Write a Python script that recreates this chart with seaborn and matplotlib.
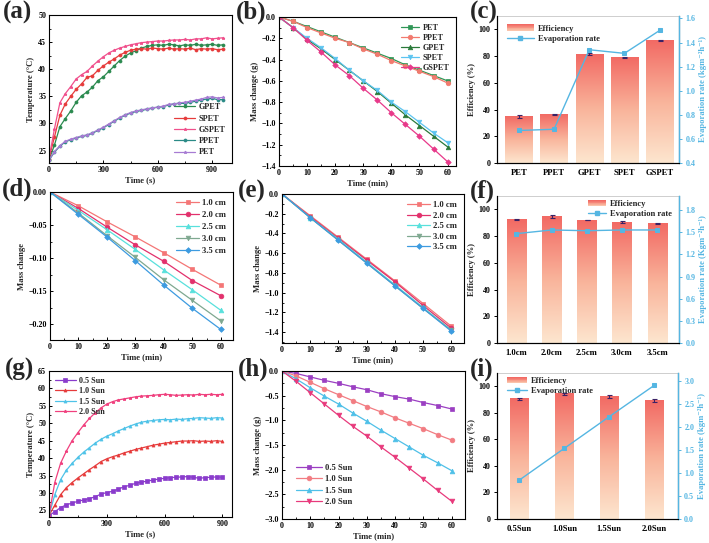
import numpy as np
import pandas as pd
import matplotlib
matplotlib.use("Agg")
import matplotlib.pyplot as plt
import seaborn as sns
from matplotlib.ticker import AutoMinorLocator, MultipleLocator, FuncFormatter
from matplotlib.colors import LinearSegmentedColormap
from matplotlib.legend_handler import HandlerBase
from matplotlib.patches import Rectangle
from matplotlib.lines import Line2D

# ---------------- DATA ----------------
# (a) temperature vs time (s)
t_a = list(range(0, 961, 30))
a_GSPET = [23.5, 29.0, 33.8, 35.5, 36.8, 38.2, 39.0, 39.6, 40.6, 41.5, 42.3, 43.0, 43.5, 43.9, 44.2, 44.5, 44.7,
           44.9, 45.0, 45.1, 45.2, 45.2, 45.3, 45.4, 45.4, 45.5, 45.4, 45.6, 45.6, 45.8, 45.6, 45.7, 45.8]
a_SPET = [23.5, 27.5, 31.5, 33.6, 35.0, 36.3, 37.3, 38.5, 38.8, 39.8, 40.6, 41.3, 41.9, 42.6, 43.1, 43.5, 43.7,
          43.8, 43.7, 43.9, 43.8, 43.7, 43.9, 43.7, 43.8, 43.7, 43.9, 43.6, 43.8, 43.7, 43.8, 43.6, 43.7]
a_GPET = [23.3, 26.0, 29.4, 30.9, 32.3, 33.9, 35.1, 35.8, 36.7, 37.9, 38.6, 39.6, 40.6, 41.6, 42.4, 43.0, 43.4,
          43.9, 44.2, 44.4, 44.5, 44.4, 44.6, 44.5, 44.3, 44.5, 44.4, 44.6, 44.4, 44.5, 44.6, 44.4, 44.5]
a_PPET = [23.2, 24.7, 25.8, 26.6, 27.0, 27.3, 27.6, 27.8, 28.2, 28.7, 29.2, 29.8, 30.4, 31.0, 31.5, 31.9, 32.2,
          32.4, 32.6, 32.8, 33.0, 33.1, 33.4, 33.6, 33.7, 33.7, 33.9, 34.1, 34.3, 34.5, 34.6, 34.4, 34.4]
a_PET = [23.3, 24.8, 25.9, 26.7, 27.1, 27.4, 27.7, 27.9, 28.3, 28.8, 29.3, 29.9, 30.5, 31.1, 31.6, 32.0, 32.3,
         32.5, 32.7, 32.9, 33.0, 33.2, 33.5, 33.6, 33.8, 33.9, 34.1, 34.3, 34.5, 34.8, 34.9, 34.7, 34.8]

# (b) mass change (g) vs time (min)
t_b = list(range(0, 61, 5))
b_PET = [0, -0.04, -0.09, -0.14, -0.19, -0.24, -0.29, -0.34, -0.39, -0.45, -0.50, -0.55, -0.60]
b_PPET = [0, -0.04, -0.10, -0.15, -0.20, -0.24, -0.30, -0.35, -0.41, -0.46, -0.51, -0.56, -0.62]
b_GPET = [0, -0.10, -0.21, -0.30, -0.40, -0.50, -0.60, -0.70, -0.81, -0.92, -1.02, -1.12, -1.22]
b_SPET = [0, -0.10, -0.20, -0.29, -0.39, -0.50, -0.60, -0.69, -0.80, -0.89, -0.99, -1.09, -1.18]
b_GSPET = [0, -0.10, -0.22, -0.33, -0.45, -0.55, -0.67, -0.78, -0.90, -1.01, -1.12, -1.24, -1.36]

# (c) efficiency / evaporation rate per sample
c_cats = ["PET", "PPET", "GPET", "SPET", "GSPET"]
c_eff = [35.0, 36.5, 81.5, 79.0, 91.8]
c_err = [1.0, 0.5, 0.6, 0.5, 0.3]
c_rate = [0.67, 0.68, 1.34, 1.31, 1.50]

# (d) & (e) mass change vs time for heights
t_de = list(range(0, 61, 10))
h_labels = ["1.0 cm", "2.0 cm", "2.5 cm", "3.0 cm", "3.5 cm"]
d_vals = [
    [0, -0.021, -0.045, -0.068, -0.092, -0.117, -0.141],
    [0, -0.025, -0.053, -0.080, -0.105, -0.134, -0.157],
    [0, -0.028, -0.057, -0.087, -0.118, -0.148, -0.179],
    [0, -0.032, -0.066, -0.099, -0.133, -0.164, -0.195],
    [0, -0.034, -0.068, -0.104, -0.141, -0.176, -0.208],
]
e_vals = [
    [0, -0.22, -0.44, -0.66, -0.88, -1.11, -1.34],
    [0, -0.23, -0.45, -0.67, -0.89, -1.13, -1.36],
    [0, -0.24, -0.46, -0.69, -0.92, -1.15, -1.38],
    [0, -0.24, -0.47, -0.70, -0.93, -1.16, -1.38],
    [0, -0.24, -0.47, -0.70, -0.93, -1.16, -1.39],
]

# (f)
f_cats = ["1.0cm", "2.0cm", "2.5cm", "3.0cm", "3.5cm"]
f_eff = [92.5, 94.5, 92.0, 90.5, 89.5]
f_err = [0.5, 1.2, 0.3, 0.6, 0.4]
f_rate = [1.48, 1.53, 1.52, 1.53, 1.53]

# (g) temperature vs time under different light intensity
t_g = list(range(0, 901, 30))
sun_labels = ["0.5 Sun", "1.0 Sun", "1.5 Sun", "2.0 Sun"]
g_vals = [
    [23.5, 24.6, 25.8, 26.6, 27.1, 27.6, 28.0, 28.4, 28.9, 29.7, 30.1, 30.5, 31.1, 31.8, 32.2, 32.8,
     33.1, 33.4, 33.7, 34.0, 34.2, 34.4, 34.5, 34.6, 34.7, 34.5, 34.2, 34.4, 34.5, 34.6, 34.5],
    [23.5, 26.5, 29.5, 31.5, 33.0, 34.3, 35.5, 36.7, 37.8, 39.0, 39.8, 40.4, 40.9, 41.5, 42.0, 42.5,
     42.9, 43.3, 43.7, 44.0, 44.3, 44.5, 44.7, 44.9, 44.9, 45.0, 44.8, 44.9, 44.8, 45.0, 44.8],
    [23.5, 29.5, 33.8, 36.5, 38.5, 40.2, 41.7, 43.0, 44.3, 45.4, 46.3, 47.0, 47.8, 48.5, 49.2, 49.8,
     50.3, 50.6, 50.8, 51.0, 51.1, 51.0, 51.2, 51.1, 51.3, 51.4, 51.6, 51.5, 51.4, 51.6, 51.5],
    [23.5, 33.0, 38.5, 42.0, 45.0, 47.3, 49.5, 51.4, 53.0, 54.4, 55.5, 56.2, 56.7, 57.0, 57.3, 57.6,
     57.8, 57.9, 58.0, 58.2, 58.3, 58.2, 58.0, 58.1, 58.2, 58.1, 58.3, 58.2, 58.3, 58.2, 58.3],
]

# (h) mass change vs time under different light intensity
t_h = list(range(0, 61, 5))
h_vals = [
    [0, -0.05, -0.12, -0.19, -0.25, -0.32, -0.38, -0.46, -0.52, -0.57, -0.64, -0.70, -0.77],
    [0, -0.10, -0.23, -0.36, -0.48, -0.60, -0.72, -0.83, -0.95, -1.06, -1.17, -1.29, -1.40],
    [0, -0.16, -0.34, -0.51, -0.67, -0.85, -1.02, -1.20, -1.37, -1.54, -1.71, -1.86, -2.02],
    [0, -0.21, -0.44, -0.67, -0.90, -1.12, -1.32, -1.54, -1.75, -1.97, -2.19, -2.42, -2.64],
]

# (i)
i_cats = ["0.5Sun", "1.0Sun", "1.5Sun", "2.0Sun"]
i_eff = [90.5, 94.5, 92.5, 89.5]
i_err = [1.0, 0.8, 1.3, 1.0]
i_rate = [0.85, 1.54, 2.23, 2.91]

# ---------------- STYLE ----------------
sns.set_style("ticks")
plt.rcParams["font.family"] = ["Liberation Serif", "DejaVu Serif"]
plt.rcParams["font.weight"] = "bold"
plt.rcParams["axes.labelweight"] = "bold"
plt.rcParams["axes.linewidth"] = 0.8
plt.rcParams["axes.edgecolor"] = "black"
plt.rcParams["xtick.color"] = "black"
plt.rcParams["ytick.color"] = "black"
plt.rcParams["axes.unicode_minus"] = True

FS_TICK = 5.8
FS_LAB = 6.2
FS_LEG = 5.9
BLUE = "#55b6e2"

fig = plt.figure(figsize=(7.09, 5.43), dpi=100)
W, H = 709, 543


def add_ax(x0, y0, x1, y1):
    return fig.add_axes([x0 / W, 1 - y1 / H, (x1 - x0) / W, (y1 - y0) / H])


def fmt(nd):
    return FuncFormatter(lambda v, p: ("%.*f" % (nd, v)).replace("-", "\u2212") if abs(v) > 1e-9 else "%.*f" % (nd, 0))


def style_line_ax(ax):
    ax.xaxis.set_minor_locator(AutoMinorLocator(2))
    ax.yaxis.set_minor_locator(AutoMinorLocator(2))
    ax.tick_params(which="both", direction="in", labelsize=FS_TICK, top=False, right=False)
    ax.tick_params(which="major", length=2.5, width=0.7, pad=2)
    ax.tick_params(which="minor", length=1.5, width=0.6)
    for s in ax.spines.values():
        s.set_visible(True)
        s.set_linewidth(0.8)
    for lab in ax.get_xticklabels() + ax.get_yticklabels():
        lab.set_fontweight("bold")


def plot_series(ax, x, y, color, marker, label, ms=3.5, lw=0.9):
    sns.lineplot(x=x, y=y, ax=ax, color=color, marker=marker, markersize=ms,
                 markeredgecolor=color, markeredgewidth=0.5, linewidth=lw, label=label,
                 errorbar=None, sort=False)


def leg(ax, loc, **kw):
    opts = dict(loc=loc, frameon=False, fontsize=FS_LEG, handlelength=2.2,
                handletextpad=0.4, labelspacing=0.4, borderaxespad=0.4)
    opts.update(kw)
    l = ax.legend(**opts)
    for t in l.get_texts():
        t.set_fontweight("bold")
    return l


def panel_label(x, y, s):
    fig.text(x / W, 1 - y / H, s, fontsize=18, fontweight="bold", va="top", ha="left")


grad_cmap = LinearSegmentedColormap.from_list("g", ["#fde6cf", "#f9b49b", "#f26a64"])


class GradHandler(HandlerBase):
    def create_artists(self, legend, orig_handle, xdescent, ydescent, width, height, fontsize, trans):
        arts = []
        n = 8
        for k in range(n):
            c = grad_cmap(0.35 + 0.65 * k / (n - 1))
            arts.append(Rectangle((-xdescent, -ydescent + height * k / n), width, height / n + 0.2,
                                  facecolor=c, edgecolor="none", transform=trans))
        return arts


def bar_panel(ax, cats, eff, err, rate, width, xlim, ylim_r, rticks, rlabel, legloc, legbbox, hl):
    sns.barplot(x=cats, y=eff, ax=ax, width=width, color="#f26a64", errorbar=None, saturation=1)
    grad = np.linspace(0, 1, 256).reshape(-1, 1)
    for p in list(ax.patches):
        x0, y0, w, h = p.get_x(), p.get_y(), p.get_width(), p.get_height()
        ax.imshow(grad, extent=[x0, x0 + w, y0, y0 + h], origin="lower", aspect="auto",
                  cmap=grad_cmap, zorder=2)
        p.set_visible(False)
    pos = np.arange(len(cats))
    ax.errorbar(pos, eff, yerr=err, fmt="none", ecolor="#3a2266", elinewidth=0.8, capsize=1.8,
                capthick=0.8, zorder=5)
    ax.set_xlim(*xlim)
    ax.set_ylim(0, 110)
    ax.yaxis.set_major_locator(MultipleLocator(20))
    ax.set_ylabel("Efficiency (%)", fontsize=FS_LAB, fontweight="bold", labelpad=2)
    ax.set_xlabel("")
    ax.tick_params(axis="y", direction="out", length=2.5, width=0.7, labelsize=FS_TICK, pad=2)
    ax.tick_params(axis="x", length=0, labelsize=FS_TICK + 0.4, pad=4)
    for lab in ax.get_xticklabels() + ax.get_yticklabels():
        lab.set_fontweight("bold")
    for s in ax.spines.values():
        s.set_visible(True)
        s.set_linewidth(0.8)
    ax.spines["top"].set_color("#bbbbbb")
    ax.spines["top"].set_linewidth(0.5)

    ax2 = ax.twinx()
    sns.lineplot(x=pos, y=rate, ax=ax2, color=BLUE, marker="s", markersize=3.2,
                 markeredgecolor=BLUE, linewidth=1.0, errorbar=None)
    ax2.set_ylim(*ylim_r)
    ax2.set_yticks(rticks)
    ax2.yaxis.set_major_formatter(fmt(1))
    ax2.set_xlim(*xlim)
    ax2.spines["right"].set_color(BLUE)
    ax2.spines["right"].set_linewidth(1.0)
    ax2.spines["top"].set_visible(False)
    ax2.tick_params(axis="y", colors=BLUE, direction="out", length=2.5, width=0.7,
                    labelsize=FS_TICK, pad=2)
    ax2.set_ylabel(rlabel, color=BLUE, fontsize=FS_LAB, fontweight="bold", labelpad=3)
    for lab in ax2.get_yticklabels():
        lab.set_fontweight("bold")
    h_bar = Rectangle((0, 0), 1, 1)
    h_line = Line2D([], [], color=BLUE, marker="s", markersize=3.0, linewidth=1.0)
    l = ax2.legend([h_bar, h_line], ["Efficiency", "Evaporation rate"], loc=legloc,
                   bbox_to_anchor=legbbox, frameon=False, fontsize=FS_LEG + 0.2, handlelength=hl,
                   handletextpad=0.5, labelspacing=0.25, borderaxespad=0.1,
                   handler_map={Rectangle: GradHandler()})
    for t in l.get_texts():
        t.set_fontweight("bold")
    return ax2


# ---------------- (a) ----------------
ax = add_ax(49, 15, 232, 163)
for y, c, lab in [(a_GPET, "#2b8a4f", "GPET"), (a_SPET, "#e63b3b", "SPET"), (a_GSPET, "#f0508c", "GSPET"),
                  (a_PPET, "#2a8a86", "PPET"), (a_PET, "#a77bd3", "PET")]:
    mk = "*" if lab in ("GSPET", "PET") else "o"
    plot_series(ax, t_a, y, c, mk, lab, ms=2.2, lw=0.9)
ax.set_xlim(0, 1010)
ax.set_ylim(22.7, 50)
ax.set_xticks([0, 300, 600, 900])
ax.set_yticks([25, 30, 35, 40, 45, 50])
ax.set_xlabel("Time (s)", fontsize=FS_LAB, labelpad=2)
ax.set_ylabel("Temperature (°C)", fontsize=FS_LAB, labelpad=2)
style_line_ax(ax)
leg(ax, "lower right", handlelength=2.6)

# ---------------- (b) ----------------
ax = add_ax(279, 17, 456, 166)
for y, c, mk, lab in [(b_PET, "#2f9656", "s", "PET"), (b_PPET, "#f27a6e", "o", "PPET"),
                      (b_GPET, "#2a7a3a", "^", "GPET"), (b_SPET, "#5cc4f0", "v", "SPET"),
                      (b_GSPET, "#e8398a", "D", "GSPET")]:
    plot_series(ax, t_b, y, c, mk, lab, ms=3.3 if mk != "D" else 2.8)
ax.set_xlim(0, 63)
ax.set_ylim(-1.4, 0)
ax.set_xticks(range(0, 61, 10))
ax.yaxis.set_major_locator(MultipleLocator(0.2))
ax.set_xlabel("Time (min)", fontsize=FS_LAB, labelpad=2)
ax.set_ylabel("Mass change (g)", fontsize=FS_LAB, labelpad=2)
style_line_ax(ax)
ax.yaxis.set_major_formatter(fmt(1))
leg(ax, "upper right", labelspacing=0.25)

# ---------------- (c) ----------------
ax = add_ax(497, 16, 679, 163)
bar_panel(ax, c_cats, c_eff, c_err, c_rate, 0.78, (-0.62, 4.55), (0.4, 1.62),
          [0.4, 0.6, 0.8, 1.0, 1.2, 1.4, 1.6], "Evaporation rate (kgm\u207b\u00b2h\u207b\u00b9)",
          "upper left", (0.03, 0.97), 3.2)

# ---------------- (d) ----------------
de_styles = [("#f47676", "s"), ("#e2306c", "o"), ("#58e0dc", "^"), ("#7fa890", "v"), ("#3d9be0", "D")]
ax = add_ax(50, 192, 233, 340)
for y, (c, mk), lab in zip(d_vals, de_styles, h_labels):
    plot_series(ax, t_de, y, c, mk, lab, ms=3.4 if mk != "D" else 2.9)
ax.set_xlim(0, 64.3)
ax.set_ylim(-0.224, 0)
ax.set_xticks(range(0, 61, 10))
ax.yaxis.set_major_locator(MultipleLocator(0.05))
ax.set_xlabel("Time (min)", fontsize=FS_LAB, labelpad=2)
ax.set_ylabel("Mass change", fontsize=FS_LAB, labelpad=2)
style_line_ax(ax)
ax.yaxis.set_major_formatter(fmt(2))
leg(ax, "upper right", handlelength=2.6, fontsize=6.2, labelspacing=0.45)

# ---------------- (e) ----------------
ax = add_ax(282, 194, 464, 343)
for y, (c, mk), lab in zip(e_vals, de_styles, h_labels):
    plot_series(ax, t_de, y, c, mk, lab, ms=3.4 if mk != "D" else 2.9)
ax.set_xlim(0, 64.5)
ax.set_ylim(-1.51, 0)
ax.set_xticks(range(0, 61, 10))
ax.yaxis.set_major_locator(MultipleLocator(0.2))
ax.set_xlabel("Time (min)", fontsize=FS_LAB, labelpad=2)
ax.set_ylabel("Mass change", fontsize=FS_LAB, labelpad=2)
style_line_ax(ax)
ax.yaxis.set_major_formatter(fmt(1))
leg(ax, "upper right", handlelength=2.6, fontsize=6.2, labelspacing=0.3)

# ---------------- (f) ----------------
ax = add_ax(497, 196, 679, 343)
bar_panel(ax, f_cats, f_eff, f_err, f_rate, 0.54, (-0.55, 4.62), (0, 1.99),
          [0.0, 0.3, 0.6, 0.9, 1.2, 1.5, 1.8], "Evaporation rate (Kgm\u207b\u00b2h\u207b\u00b9)",
          "upper right", (0.985, 1.0), 2.1)

# ---------------- (g) ----------------
g_colors = ["#8a3ccc", "#e63b3b", "#4fc3e8", "#f0407e"]
ax = add_ax(49, 371, 232, 517)
for y, c, lab in zip(g_vals, g_colors, sun_labels):
    plot_series(ax, t_g, y, c, "s" if lab == "0.5 Sun" else ("*" if lab == "2.0 Sun" else "^"), lab, ms=2.2)
ax.set_xlim(0, 950)
ax.set_ylim(23.1, 65)
ax.set_xticks([0, 300, 600, 900])
ax.yaxis.set_major_locator(MultipleLocator(5))
ax.set_xlabel("Time (s)", fontsize=FS_LAB, labelpad=2)
ax.set_ylabel("Temperature (°C)", fontsize=FS_LAB, labelpad=2)
style_line_ax(ax)
leg(ax, "upper left", handlelength=2.6, labelspacing=0.3, borderaxespad=0.3)

# ---------------- (h) ----------------
h_styles = [("#9b3fc2", "s"), ("#f27c82", "o"), ("#4fc0e8", "^"), ("#e83a7c", "v")]
ax = add_ax(282, 371, 465, 519)
for y, (c, mk), lab in zip(h_vals, h_styles, sun_labels):
    plot_series(ax, t_h, y, c, mk, lab, ms=3.4)
ax.set_xlim(0, 64.7)
ax.set_ylim(-3.0, 0)
ax.set_xticks(range(0, 61, 10))
ax.yaxis.set_major_locator(MultipleLocator(0.5))
ax.set_xlabel("Time (min)", fontsize=FS_LAB, labelpad=2)
ax.set_ylabel("Mass change (g)", fontsize=FS_LAB, labelpad=2)
style_line_ax(ax)
ax.yaxis.set_major_formatter(fmt(1))
leg(ax, "lower left", handlelength=3.0, bbox_to_anchor=(0.04, 0.04), fontsize=6.2)

# ---------------- (i) ----------------
ax = add_ax(497, 373, 678, 519)
bar_panel(ax, i_cats, i_eff, i_err, i_rate, 0.42, (-0.5, 3.53), (0, 3.18),
          [0.0, 0.5, 1.0, 1.5, 2.0, 2.5, 3.0], "Evaporation rate (kgm\u207b\u00b2h\u207b\u00b9)",
          "upper left", (0.03, 1.0), 2.4)

# ---------------- panel labels ----------------
panel_label(3, 1, "(a)")
panel_label(236, 1, "(b)")
panel_label(470, 1, "(c)")
panel_label(2, 178, "(d)")
panel_label(238, 180, "(e)")
panel_label(470, 180, "(f)")
panel_label(5, 358, "(g)")
panel_label(238, 358, "(h)")
panel_label(470, 358, "(i)")

fig.savefig("out.png", dpi=100, facecolor="white")
